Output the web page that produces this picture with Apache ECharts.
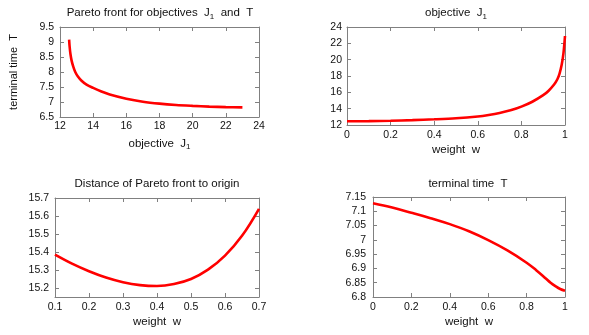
<!DOCTYPE html>
<html><head><meta charset="utf-8">
<script src="https://cdn.jsdelivr.net/npm/echarts@6/dist/echarts.min.js"></script>
<style>html,body{margin:0;padding:0;background:#fff}#c{width:589px;height:335px}</style>
</head><body><div id="c"></div>
<script>
// Panel 1: Pareto front (J1, T)
const paretoJ1 = [12.55, 12.58, 12.63, 12.7, 12.8, 12.92, 13.08, 13.3, 13.6, 14.0, 14.5, 15.0, 16.0, 17.0, 18.0, 19.0, 20.0, 21.0, 22.0, 23.0];
const paretoT  = [9.08, 8.85, 8.6, 8.38, 8.18, 8.0, 7.85, 7.71, 7.58, 7.47, 7.35, 7.25, 7.11, 7.01, 6.945, 6.9, 6.87, 6.845, 6.83, 6.82];
// Panel 2: objective J1 vs weight w
const wJ1   = [0, 0.1, 0.2, 0.3, 0.4, 0.5, 0.6, 0.65, 0.7, 0.75, 0.8, 0.85, 0.9, 0.925, 0.95, 0.965, 0.975, 0.985, 0.993, 1.0];
const J1val = [12.45, 12.47, 12.52, 12.6, 12.7, 12.83, 13.05, 13.23, 13.47, 13.8, 14.25, 14.85, 15.65, 16.2, 16.95, 17.6, 18.3, 19.4, 20.8, 22.9];
// Panel 3: distance of Pareto front to origin vs weight w
const wDist = [0.1, 0.15, 0.2, 0.25, 0.3, 0.35, 0.4, 0.45, 0.5, 0.55, 0.6, 0.65, 0.7];
const distV = [15.385, 15.335, 15.293, 15.258, 15.232, 15.216, 15.211, 15.222, 15.25, 15.302, 15.38, 15.49, 15.64];
// Panel 4: terminal time T vs weight w
const wT   = [0, 0.1, 0.2, 0.3, 0.4, 0.5, 0.6, 0.7, 0.8, 0.85, 0.9, 0.925, 0.95, 0.975, 1.0];
const Tval = [7.128, 7.113, 7.095, 7.076, 7.055, 7.03, 6.999, 6.963, 6.92, 6.894, 6.865, 6.85, 6.838, 6.828, 6.822];

// axis ranges [min, max, step]
const ax1x = [12, 24, 2],   ax1y = [6.5, 9.5, 0.5];
const ax2x = [0, 1, 0.2],   ax2y = [12, 24, 2];
const ax3x = [0.1, 0.7, 0.1], ax3y = [15.15, 15.7, 0.1];
const ax4x = [0, 1, 0.2],   ax4y = [6.8, 7.15, 0.05];

const FONT = 'Liberation Sans';
const FS = 10.5;
const FT = 11.5;
const FRAME = '#808080';
const grids = [
  {left: 60, top: 27, width: 199, height: 90},
  {left: 347, top: 27, width: 218, height: 98},
  {left: 55, top: 198, width: 204, height: 99},
  {left: 373, top: 197, width: 192, height: 100}
];

function fmtNice(step){
  return function(v){
    const k = v / step;
    if (Math.abs(k - Math.round(k)) > 1e-6) return '';
    return String(+v.toFixed(4));
  };
}
const richT = {n: {fontFamily: FONT, fontSize: FT, color: '#111'}, s: {fontFamily: FONT, fontSize: 8, color: '#111', padding: [7, 0, 0, 0]}};
const xAxes = [], yAxes = [];
function addAxes(gi, xr, yr, xname, xgap, xmargin, ymargin, yname, niceY){
  const base = {
    type: 'value', gridIndex: gi, scale: true,
    splitLine: {show: false},
    axisLine: {show: true, onZero: false, lineStyle: {color: FRAME, width: 1}},
    axisTick: {show: true, inside: true, length: 4, lineStyle: {color: FRAME}},
  };
  xAxes.push(Object.assign({}, base, {
    position: 'bottom', min: xr[0], max: xr[1], interval: xr[2],
    axisLabel: {fontFamily: FONT, fontSize: FS, color: '#111', margin: xmargin, formatter: fmtNice(xr[2])},
    name: xname, nameLocation: 'middle', nameGap: xgap,
    nameTextStyle: {fontFamily: FONT, fontSize: FT, color: '#111', rich: richT}
  }));
  xAxes.push(Object.assign({}, base, {
    position: 'top', min: xr[0], max: xr[1], interval: xr[2], axisLabel: {show: false}
  }));
  const yb = niceY ? {min: yr[0], max: yr[1], splitNumber: 5} : {min: yr[0], max: yr[1], interval: yr[2]};
  yAxes.push(Object.assign({}, base, yb, {
    position: 'left',
    axisLabel: {fontFamily: FONT, fontSize: FS, color: '#111', margin: ymargin, formatter: fmtNice(yr[2])},
    name: yname || '', nameLocation: 'middle', nameGap: 41, nameRotate: 90,
    nameTextStyle: {fontFamily: FONT, fontSize: FS + 0.5, color: '#111'}
  }));
  yAxes.push(Object.assign({}, base, yb, {position: 'right', axisLabel: {show: false}}));
}
addAxes(0, ax1x, ax1y, '{n|objective  J}{s|1}', 19, 4, 6, 'terminal time  T', false);
addAxes(1, ax2x, ax2y, '{n|weight  w}', 19, 5, 5, '', false);
addAxes(2, ax3x, ax3y, '{n|weight  w}', 19, 5, 6, '', true);
addAxes(3, ax4x, ax4y, '{n|weight  w}', 19, 5, 7, '', false);

function zip(a, b){ return a.map((v, i) => [v, b[i]]); }
const lineStyle = {color: '#ff0000', width: 2.6};
const mk = (i, x, y, sm) => ({type: 'line', xAxisIndex: 2*i, yAxisIndex: 2*i, data: zip(x, y),
  symbol: 'none', smooth: sm, lineStyle: lineStyle, silent: true, animation: false, clip: true});

const titleText = (x, y, t) => ({type: 'text', x: x, y: y, style: {text: t, rich: richT, fontFamily: FONT, fontSize: FT, fill: '#111', align: 'center', verticalAlign: 'middle'}});

const chart = echarts.init(document.getElementById('c'), null, {renderer: 'canvas'});
chart.setOption({
  animation: false,
  backgroundColor: '#fff',
  grid: grids.map(g => Object.assign({containLabel: false}, g)),
  xAxis: xAxes,
  yAxis: yAxes,
  graphic: [
    titleText(160, 13, '{n|Pareto front for objectives  J}{s|1}{n|  and  T}'),
    titleText(456, 13, '{n|objective  J}{s|1}'),
    titleText(157, 184, '{n|Distance of Pareto front to origin}'),
    titleText(468, 184, '{n|terminal time  T}')
  ],
  series: [
    mk(0, paretoJ1, paretoT, 0.3),
    mk(1, wJ1, J1val, 0.3),
    mk(2, wDist, distV, 0.4),
    mk(3, wT, Tval, 0.4)
  ]
});
</script></body></html>
